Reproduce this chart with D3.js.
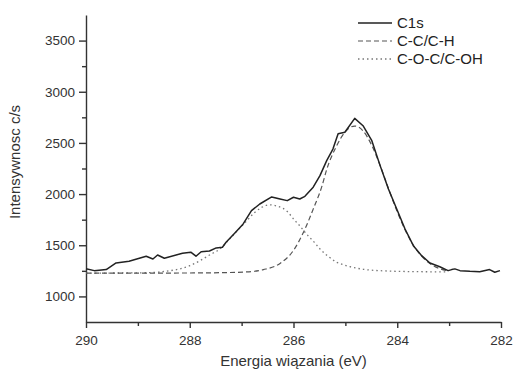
<!DOCTYPE html>
<html>
<head>
<meta charset="utf-8">
<script src="https://d3js.org/d3.v7.min.js"></script>
<style>
  body { margin: 0; background: #fff; }
  svg { font-family: "Liberation Sans", Arial, sans-serif; }
  .axis path, .axis line { stroke: #333; stroke-width: 1.4; }
  .axis text { fill: #333; font-size: 13.5px; }
</style>
</head>
<body>
<script>
// C1s spectrum (binding energy eV, counts/s)
var c1sEnergy = [290.00, 289.84, 289.61, 289.42, 289.17, 288.84, 288.71, 288.62, 288.49, 288.14,
	287.98, 287.88, 287.78, 287.62, 287.49, 287.37, 287.30, 287.13, 286.97, 286.81,
	286.65, 286.42, 286.26, 286.12, 286.00, 285.88, 285.78, 285.62, 285.49, 285.36,
	285.24, 285.14, 285.01, 284.82, 284.66, 284.49, 284.33, 284.17, 284.01, 283.85,
	283.69, 283.53, 283.37, 283.18, 283.02, 282.95, 282.89, 282.79, 282.60, 282.41,
	282.22, 282.12, 282.02];
var c1sCounts = [1270, 1252, 1262, 1327, 1344, 1393, 1366, 1405, 1373, 1422,
	1432, 1393, 1437, 1444, 1474, 1480, 1529, 1620, 1708, 1838,
	1903, 1972, 1952, 1936, 1969, 1952, 1978, 2067, 2180, 2327,
	2440, 2590, 2604, 2740, 2668, 2522, 2278, 2050, 1855, 1659,
	1496, 1398, 1327, 1290, 1252, 1262, 1269, 1252, 1245, 1242,
	1262, 1236, 1252];

// C-C/C-H component
var ccEnergy = [290.00, 289.00, 288.00, 287.40, 286.90, 286.58, 286.26, 286.00, 285.80, 285.62,
	285.45, 285.36, 285.17, 285.00, 284.82, 284.66, 284.49, 284.33, 284.17, 284.01,
	283.85, 283.69, 283.53, 283.37, 283.18, 283.05];
var ccCounts = [1228, 1228, 1229, 1232, 1240, 1262, 1322, 1450, 1635, 1853,
	2080, 2240, 2470, 2610, 2665, 2618, 2475, 2280, 2055, 1840,
	1652, 1500, 1393, 1322, 1271, 1252];

// C-O-C/C-OH component
var cocEnergy = [290.00, 289.00, 288.60, 288.40, 288.19, 288.00, 287.80, 287.60, 287.42, 287.23,
	287.05, 286.90, 286.75, 286.62, 286.47, 286.30, 286.12, 286.00, 285.88, 285.75,
	285.60, 285.49, 285.30, 285.17, 285.04, 284.91, 284.65, 284.27, 283.63, 283.05];
var cocCounts = [1228, 1230, 1238, 1250, 1269, 1300, 1350, 1410, 1464, 1562,
	1660, 1740, 1820, 1868, 1895, 1880, 1830, 1757, 1690, 1610,
	1530, 1464, 1380, 1334, 1310, 1290, 1265, 1250, 1242, 1240];

var xTicks = [290, 288, 286, 284, 282],
	xMinor = [289, 287, 285, 283],
	yTicks = [1000, 1500, 2000, 2500, 3000, 3500],
	yMinor = [1250, 1750, 2250, 2750, 3250];

var legendNames = ["C1s", "C-C/C-H", "C-O-C/C-OH"];

var width = 514,
	height = 372,
	margin = {left: 86, right: 13, top: 15, bottom: 50};

var svg = d3.select("body").append("svg")
		.attr("width", width)
		.attr("height", height);

var x = d3.scaleLinear()
		.domain([290, 282])
		.range([margin.left, width - margin.right]);

var y = d3.scaleLinear()
		.domain([750, 3750])
		.range([height - margin.bottom, margin.top]);

// minor ticks first, so the main axes sit on top
svg.append("g")
		.attr("class", "axis")
		.attr("transform", "translate(0," + (height - margin.bottom) + ")")
		.call(d3.axisBottom(x).tickValues(xMinor).tickSize(4).tickFormat(""))
		.select(".domain").remove();

svg.append("g")
		.attr("class", "axis")
		.attr("transform", "translate(" + margin.left + ",0)")
		.call(d3.axisLeft(y).tickValues(yMinor).tickSize(4).tickFormat(""))
		.select(".domain").remove();

svg.append("g")
		.attr("class", "axis")
		.attr("transform", "translate(0," + (height - margin.bottom) + ")")
		.call(d3.axisBottom(x).tickValues(xTicks).tickSize(6).tickSizeOuter(0).tickPadding(7).tickFormat(d3.format("d")));

svg.append("g")
		.attr("class", "axis")
		.attr("transform", "translate(" + margin.left + ",0)")
		.call(d3.axisLeft(y).tickValues(yTicks).tickSize(7).tickSizeOuter(0).tickPadding(4).tickFormat(d3.format("d")));

function toPoints(es, cs){
	return es.map(function(e, i){ return [e, cs[i]]; });
}

var line = d3.line()
		.x(function(d){ return x(d[0]); })
		.y(function(d){ return y(d[1]); });

var smooth = d3.line()
		.curve(d3.curveMonotoneX)
		.x(function(d){ return x(d[0]); })
		.y(function(d){ return y(d[1]); });

var styles = [
	{stroke: "#777", width: 1.3, dash: "1.5,3"},
	{stroke: "#555", width: 1.2, dash: "5,3"},
	{stroke: "#222", width: 1.5, dash: null}
];

svg.append("path")
		.datum(toPoints(cocEnergy, cocCounts))
		.attr("d", smooth)
		.attr("fill", "none")
		.attr("stroke", styles[0].stroke)
		.attr("stroke-width", styles[0].width)
		.attr("stroke-dasharray", styles[0].dash);

svg.append("path")
		.datum(toPoints(ccEnergy, ccCounts))
		.attr("d", smooth)
		.attr("fill", "none")
		.attr("stroke", styles[1].stroke)
		.attr("stroke-width", styles[1].width)
		.attr("stroke-dasharray", styles[1].dash);

svg.append("path")
		.datum(toPoints(c1sEnergy, c1sCounts))
		.attr("d", line)
		.attr("fill", "none")
		.attr("stroke", styles[2].stroke)
		.attr("stroke-width", styles[2].width)
		.attr("stroke-linejoin", "round");

// legend
var legendStyles = [styles[2], styles[1], styles[0]];
var legend = svg.append("g")
		.attr("transform", "translate(358,23)");

legend.selectAll("g")
		.data(legendNames)
	.enter().append("g")
		.attr("transform", function(d, i){ return "translate(0," + (i * 18) + ")"; })
		.each(function(d, i){
			var g = d3.select(this), s = legendStyles[i];
			g.append("line")
					.attr("x1", 0).attr("x2", 34)
					.attr("stroke", s.stroke)
					.attr("stroke-width", s.width)
					.attr("stroke-dasharray", s.dash);
			g.append("text")
					.attr("x", 39)
					.attr("dy", "0.35em")
					.attr("fill", "#222")
					.style("font-size", "15px")
					.text(d);
		});

// axis titles
svg.append("text")
		.attr("x", x(286))
		.attr("y", 366)
		.attr("text-anchor", "middle")
		.attr("fill", "#333")
		.style("font-size", "15px")
		.text("Energia wiązania (eV)");

svg.append("text")
		.attr("transform", "translate(20,162) rotate(-90)")
		.attr("text-anchor", "middle")
		.attr("fill", "#333")
		.style("font-size", "15px")
		.text("Intensywnosc c/s");
</script>
</body>
</html>
